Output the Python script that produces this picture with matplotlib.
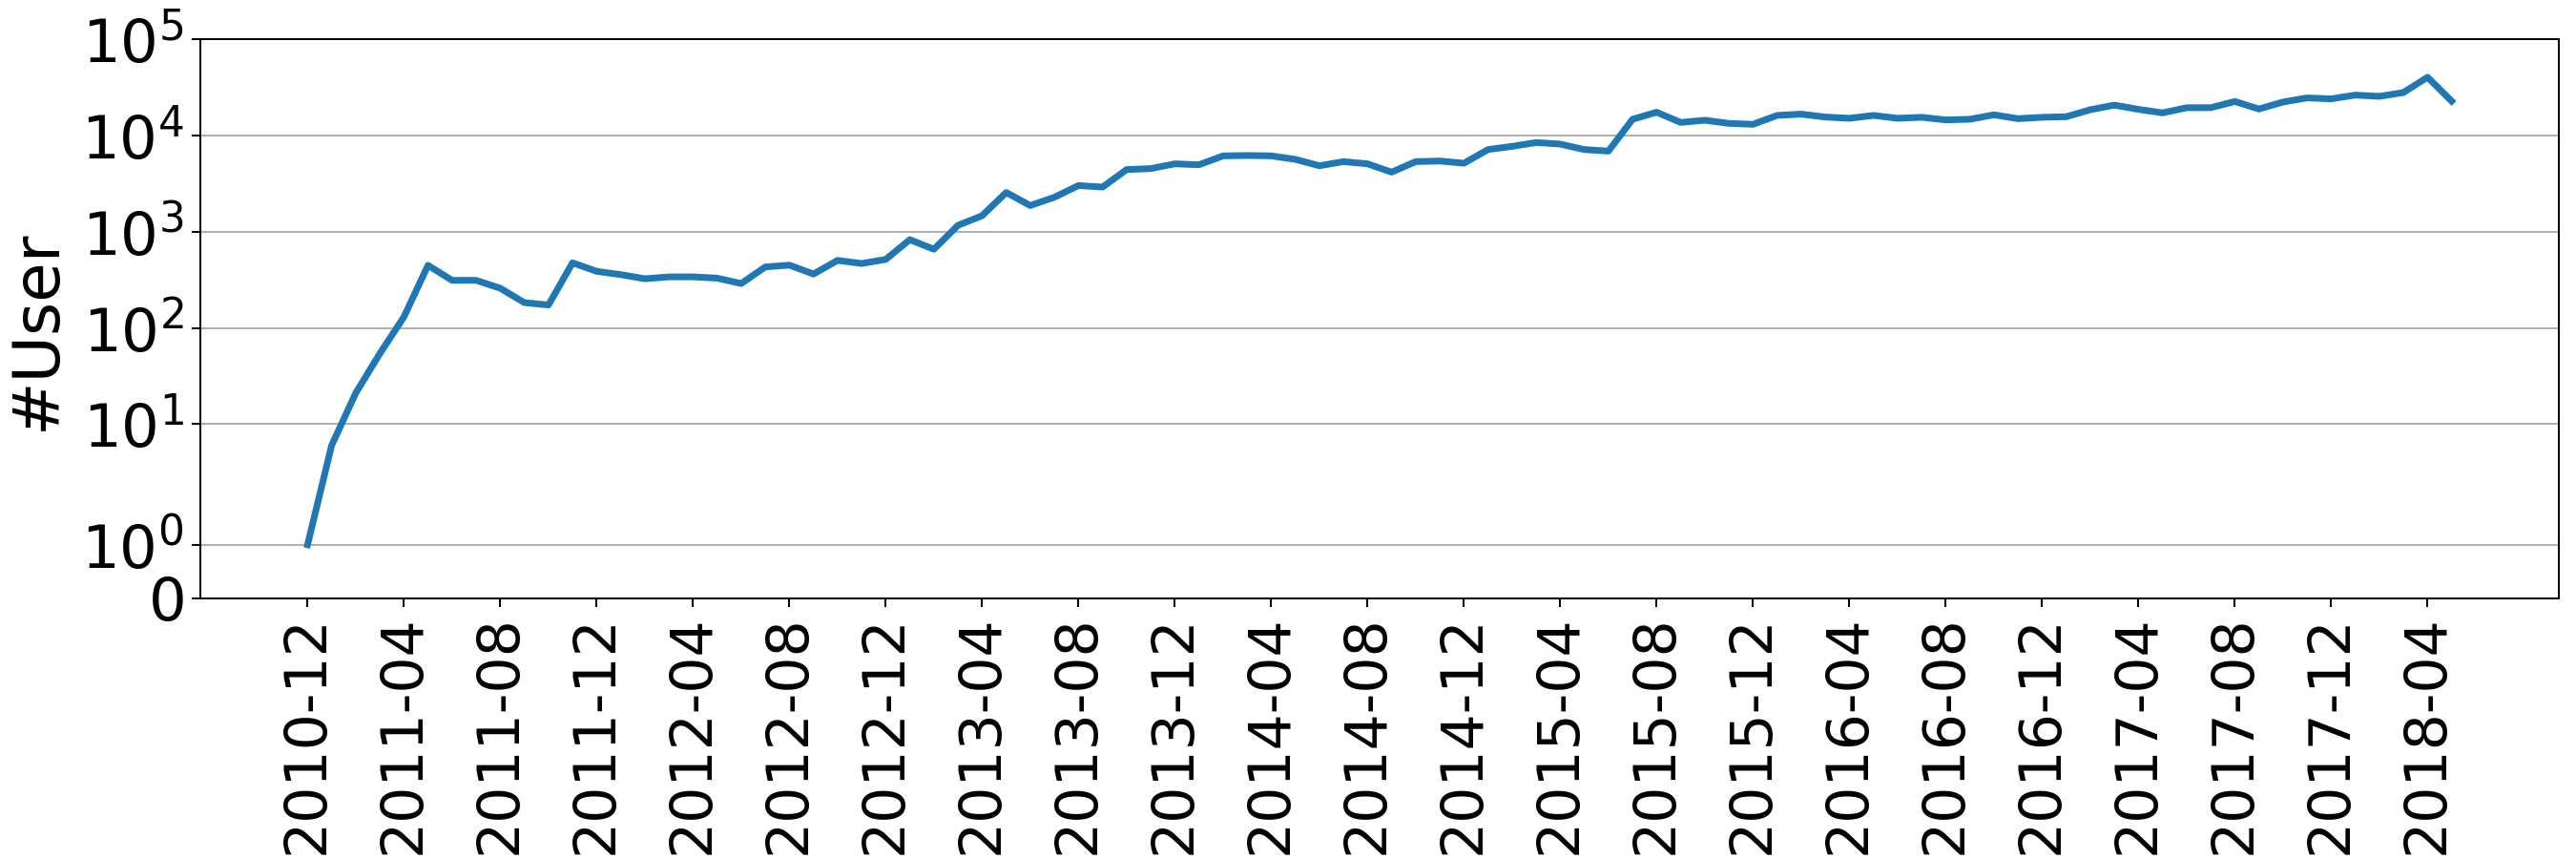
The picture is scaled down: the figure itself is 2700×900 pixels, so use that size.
import matplotlib
matplotlib.use("Agg")
import matplotlib.pyplot as plt
import numpy as np

months = [f"{y}-{m:02d}" for y, m in
          [(2010, 12)] + [(y, m) for y in range(2011, 2018) for m in range(1, 13)] + [(2018, m) for m in range(1, 6)]]

users = [1, 6, 21, 54, 130, 447, 312, 312, 258, 183,
         173, 475, 387, 358, 324, 339, 339, 329, 289, 430,
         449, 363, 503, 467, 515, 826, 657, 1165, 1465, 2556,
         1870, 2280, 3020, 2910, 4425, 4530, 5075, 4960, 6135, 6200,
         6140, 5650, 4845, 5350, 5075, 4160, 5350, 5430, 5150, 7140,
         7710, 8450, 8140, 7140, 6880, 14750, 17450, 13670, 14420, 13360,
         13060, 16180, 16680, 15560, 15100, 16180, 15100, 15460, 14530, 14750,
         16410, 14960, 15460, 15680, 18530, 20700, 18700, 17190, 19450, 19450,
         22590, 18850, 22280, 24600, 24050, 26330, 25530, 27990, 40360, 22800]

tick_step = 4

fig = plt.figure(figsize=(15, 5), dpi=180)
ax = fig.add_axes([210 / 2700, 1 - 626.7 / 900, (2682 - 210) / 2700, (626.7 - 41.2) / 900])

x = np.arange(len(users))
ax.plot(x, users, color="#1f77b4", lw=2.8)
ax.set_yscale("symlog")
ax.set_ylim(0, 1e5)
ax.yaxis.grid(True, color="#b0b0b0", lw=0.8)
ax.set_axisbelow(True)
ax.set_xticks(x[::tick_step])
ax.set_xticklabels(months[::tick_step], rotation=90)
ax.tick_params(axis="x", labelsize=24)
ax.tick_params(axis="y", labelsize=25)
ax.set_ylabel("#User", fontsize=27)
ax.yaxis.set_label_coords(-0.056, 0.48)

fig.savefig("out.png", dpi=180)
